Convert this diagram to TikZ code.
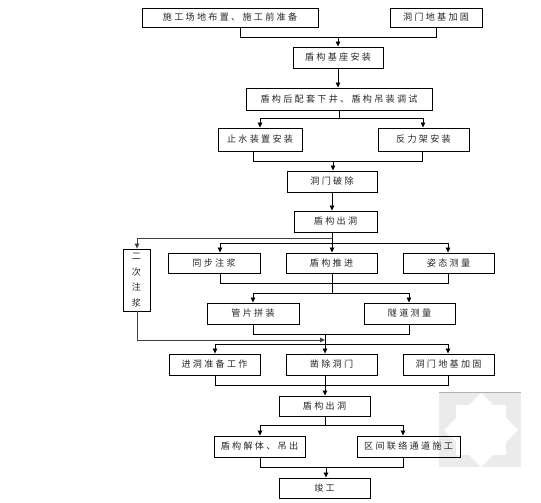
\documentclass[tikz,border=0pt]{standalone}
\usepackage{fontspec}
\usetikzlibrary{arrows.meta}
\newfontfamily\cjk[LetterSpace=25]{Noto Sans CJK SC}
\begin{document}
\begin{tikzpicture}[x=1pt,y=-1pt,
  box/.style={draw,line width=0.9pt,rectangle,inner sep=0pt,font=\cjk\fontsize{9.1}{11}\selectfont,text=black!85},
  ln/.style={line width=0.8pt},
  ar/.style={line width=0.8pt,-{Triangle[length=5pt,width=4.5pt]}}]
\useasboundingbox (0,0) rectangle (541,503);
% watermark
\fill[black!8] (439,392) rectangle (521,467);
\draw[black!30,line width=0.8pt] (439,392) -- (521,392);
\fill[white] (481,393) -- (518,430) -- (481,467) -- (444,430) -- cycle;
\fill[white] (456,405) rectangle (506,455);
% nodes
\node[box,minimum width=176,minimum height=19] (b1) at (230,17.5) {施工场地布置、施工前准备};
\node[box,minimum width=92,minimum height=19] (b2) at (436,17.5) {洞门地基加固};
\node[box,minimum width=90,minimum height=21] (b3) at (338,57.5) {盾构基座安装};
\node[box,minimum width=186,minimum height=22] (b4) at (339,99) {盾构后配套下井、盾构吊装调试};
\node[box,minimum width=84,minimum height=23] (b5) at (260,139.5) {止水装置安装};
\node[box,minimum width=91,minimum height=23] (b6) at (423.5,139.5) {反力架安装};
\node[box,minimum width=90,minimum height=21] (b7) at (332,181.5) {洞门破除};
\node[box,minimum width=83,minimum height=21] (b8) at (335.5,221.5) {盾构出洞};
\node[box,minimum width=27,minimum height=62,align=center] (er) at (136.5,280) {二\\[4.5pt]次\\[4.5pt]注\\[4.5pt]浆};
\node[box,minimum width=92,minimum height=20] (t1) at (214,263) {同步注浆};
\node[box,minimum width=91,minimum height=20] (t2) at (331.5,263) {盾构推进};
\node[box,minimum width=91,minimum height=20] (t3) at (448.5,263) {姿态测量};
\node[box,minimum width=92,minimum height=21] (g1) at (253,313.5) {管片拼装};
\node[box,minimum width=91,minimum height=21] (g2) at (409.5,313.5) {隧道测量};
\node[box,minimum width=91,minimum height=21] (r1) at (214.5,364.5) {进洞准备工作};
\node[box,minimum width=91,minimum height=21] (r2) at (331.5,364.5) {凿除洞门};
\node[box,minimum width=91,minimum height=21] (r3) at (448.5,364.5) {洞门地基加固};
\node[box,minimum width=91,minimum height=20] (c1) at (324.5,406) {盾构出洞};
\node[box,minimum width=91,minimum height=21] (d1) at (259.5,446.5) {盾构解体、吊出};
\node[box,minimum width=103,minimum height=21] (d2) at (408.5,446.5) {区间联络通道施工};
\node[box,minimum width=91,minimum height=20] (jg) at (324.5,488) {竣工};
% junctions
\coordinate (j1l) at (240,37); \coordinate (j1r) at (436,37); \coordinate (j1c) at (338,37);
\coordinate (j2c) at (339,118); \coordinate (j2l) at (260,118); \coordinate (j2r) at (423,118);
\coordinate (j3l) at (253,161); \coordinate (j3r) at (422,161); \coordinate (j3c) at (333,161);
\coordinate (j4c) at (332,238); \coordinate (j4e) at (137,238);
\coordinate (j5l) at (220,243); \coordinate (j5c) at (332,243); \coordinate (j5r) at (448,243);
\coordinate (j6l) at (220,283); \coordinate (j6r) at (448,283); \coordinate (j6c) at (332,283);
\coordinate (j7l) at (253,293); \coordinate (j7c) at (332,293); \coordinate (j7r) at (409,293);
\coordinate (j8l) at (253,334); \coordinate (j8r) at (409,334); \coordinate (j8c) at (325,334);
\coordinate (je) at (137,340); \coordinate (jec) at (325,340);
\coordinate (j9l) at (215,344); \coordinate (j9c) at (325,344); \coordinate (j9r) at (448,344);
\coordinate (k1l) at (215,385); \coordinate (k1c) at (325,385); \coordinate (k1r) at (448,385);
\coordinate (k2l) at (260,425); \coordinate (k2c) at (325,425); \coordinate (k2r) at (403,425);
\coordinate (k3l) at (260,467); \coordinate (k3c) at (326,467); \coordinate (k3r) at (403,467);
% connectors
\draw[ln] (b1.south -| j1l) -- (j1l) -- (j1r) -- (b2.south -| j1r);
\draw[ar] (j1c) -- (b3.north -| j1c);
\draw[ar] (b3.south -| j1c) -- (b4.north -| j1c);
\draw[ln] (b4.south -| j2c) -- (j2c);
\draw[ln] (j2l) -- (j2r);
\draw[ar] (j2l) -- (b5.north -| j2l);
\draw[ar] (j2r) -- (b6.north -| j2r);
\draw[ln] (b5.south -| j3l) -- (j3l) -- (j3r) -- (b6.south -| j3r);
\draw[ar] (j3c) -- (b7.north -| j3c);
\draw[ar] (b7.south -| j4c) -- (b8.north -| j4c);
\draw[ln] (b8.south -| j4c) -- (j5c);
\draw[ar,black!75] (j4c) -- (j4e) -- (er.north -| j4e);
\draw[ln] (j5l) -- (j5r);
\draw[ar] (j5l) -- (t1.north -| j5l);
\draw[ar] (j5c) -- (t2.north -| j5c);
\draw[ar] (j5r) -- (t3.north -| j5r);
\draw[ln] (t1.south -| j6l) -- (j6l) -- (j6r) -- (t3.south -| j6r);
\draw[ln] (t2.south -| j6c) -- (j7c);
\draw[ln] (j7l) -- (j7r);
\draw[ar] (j7l) -- (g1.north -| j7l);
\draw[ar] (j7r) -- (g2.north -| j7r);
\draw[ln] (g1.south -| j8l) -- (j8l) -- (j8r) -- (g2.south -| j8r);
\draw[ln] (j8c) -- (j9c);
\draw[ar,black!75,line width=1pt] (er.south -| je) -- (je) -- (jec);
\draw[ln] (j9l) -- (j9r);
\draw[ar] (j9l) -- (r1.north -| j9l);
\draw[ar] (j9c) -- (r2.north -| j9c);
\draw[ar] (j9r) -- (r3.north -| j9r);
\draw[ln] (r1.south -| k1l) -- (k1l) -- (k1r) -- (r3.south -| k1r);
\draw[ln] (r2.south -| k1c) -- (k1c);
\draw[ar] (k1c) -- (c1.north -| k1c);
\draw[ln] (c1.south -| k2c) -- (k2c);
\draw[ln] (k2l) -- (k2r);
\draw[ar] (k2l) -- (d1.north -| k2l);
\draw[ar] (k2r) -- (d2.north -| k2r);
\draw[ln] (d1.south -| k3l) -- (k3l) -- (k3r) -- (d2.south -| k3r);
\draw[ar] (k3c) -- (jg.north -| k3c);
\end{tikzpicture}
\end{document}
